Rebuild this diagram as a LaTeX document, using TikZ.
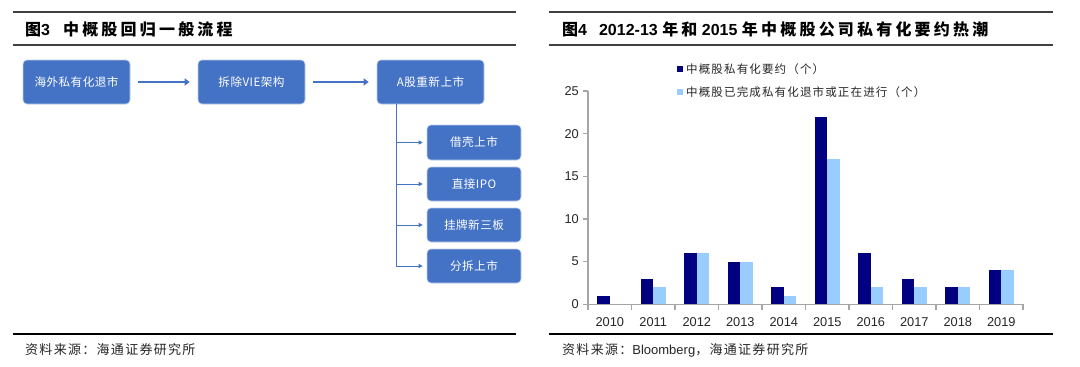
\documentclass[tikz,border=0pt]{standalone}
\usepackage{fontspec}
\setmainfont{Liberation Sans}
\newfontfamily\cjk[LetterSpace=10]{Noto Sans CJK SC}
\newfontfamily\cjkb[LetterSpace=4]{Noto Sans CJK SC}
\newfontfamily\cjkt[LetterSpace=20]{Noto Sans CJK SC}
\usetikzlibrary{arrows.meta}
\definecolor{boxblue}{HTML}{4472C4}
\definecolor{navybar}{HTML}{000080}
\definecolor{lightbar}{HTML}{99CCFF}
\definecolor{axisgray}{HTML}{A6A6A6}
\definecolor{rulegray}{HTML}{404040}
\definecolor{textdark}{HTML}{262626}
\begin{document}
\begin{tikzpicture}[x=1pt,y=-1pt,
  flowbox/.style={fill=boxblue, draw=boxblue!35, line width=0.6pt, rounded corners=4pt,
    minimum width=107pt, minimum height=44pt, text=white, inner sep=0pt,
    font=\cjkb\fontsize{11.6}{13}\selectfont},
  subbox/.style={flowbox, minimum width=94pt, minimum height=34pt},
  mainarrow/.style={draw=boxblue, line width=2.2pt, -{Triangle[length=5pt,width=7pt]},
    shorten <=8pt, shorten >=8pt},
  subarrow/.style={draw=boxblue, line width=0.8pt, -{Triangle[length=4pt,width=4pt]},
    shorten >=4pt},
  trunkline/.style={draw=boxblue, line width=0.8pt},
  titletext/.style={anchor=west, inner sep=0pt, text=black},
  sourcetext/.style={anchor=west, inner sep=0pt, text=textdark,
    font=\fontsize{13}{15}\selectfont},
  toprule/.style={draw=rulegray, line width=1.3pt},
  botrule/.style={draw=black, line width=1.3pt},
  axisline/.style={draw=axisgray, line width=1.2pt},
  ticklabel/.style={inner sep=0pt, text=textdark, font=\fontsize{12.8}{14}\selectfont},
  legendtext/.style={anchor=west, inner sep=0pt, text=textdark,
    font=\cjk\fontsize{11.5}{13}\selectfont}
]
\useasboundingbox (0,0) rectangle (1080,367);
\fill[white] (0,0) rectangle (1080,367);

% ---------- rules ----------
\draw[toprule] (13,12) -- (516,12);
\draw[toprule] (13,45) -- (516,45);
\draw[botrule] (13,334) -- (516,334);
\draw[toprule] (549,12) -- (1053,12);
\draw[toprule] (549,45) -- (1053,45);
\draw[botrule] (549,334) -- (1053,334);

% ---------- titles ----------
\node[titletext] (t3) at (25,29) {\fontsize{16}{18}\selectfont{\cjkt\bfseries 图}{\bfseries 3}\hspace{13pt}{\cjkt\bfseries 中概股回归一般流程}};
\node[titletext] (t4) at (562,29) {\fontsize{16}{18}\selectfont{\cjkt\bfseries 图}{\bfseries 4}\hspace{12pt}{\bfseries 2012-13 }{\cjkt\bfseries 年和}{\bfseries\ 2015 }{\cjkt\bfseries 年中概股公司私有化要约热潮}};

% ---------- sources ----------
\node[sourcetext] (s3) at (25,350) {{\cjk 资料来源：海通证券研究所}};
\node[sourcetext] (s4) at (562,350) {{\cjk 资料来源：}Bloomberg{\cjk ，海通证券研究所}};

% ---------- flowchart ----------
\node[flowbox] (b1) at (76.5,82) {海外私有化退市};
\node[flowbox] (b2) at (251.5,82) {拆除VIE架构};
\node[flowbox] (b3) at (430.5,82) {A股重新上市};
\draw[mainarrow] (b1) -- (b2);
\draw[mainarrow] (b2) -- (b3);

\node[subbox, minimum height=35pt] (sa) at (474,142.5) {借壳上市};
\node[subbox] (sb) at (474,184) {直接IPO};
\node[subbox] (sc) at (474,225) {挂牌新三板};
\node[subbox] (sd) at (474,266) {分拆上市};

\coordinate (trunk) at (396,104);
\draw[trunkline] (trunk) -- (trunk |- sd.west);
\foreach \s in {sa,sb,sc,sd}
  \draw[subarrow] (trunk |- \s.west) -- (\s.west);

% ---------- bar chart ----------
\foreach \i/\a/\b in {0/1/0,1/3/2,2/6/6,3/5/5,4/2/1,5/22/17,6/6/2,7/3/2,8/2/2,9/4/4}{
  \pgfmathsetmacro{\cx}{609.75+43.5*\i}
  \fill[navybar] (\cx-12.5,304.3) rectangle (\cx,{304.3-8.53*\a});
  \fill[lightbar] (\cx,304.3) rectangle (\cx+12.5,{304.3-8.53*\b});
  \node[ticklabel] at (\cx,322) {\pgfmathparse{int(2010+\i)}\pgfmathresult};
}
\draw[axisline] (588,91) -- (588,304.3) -- (1023,304.3);
\foreach \v in {0,5,10,15,20,25}{
  \draw[axisline] (583,{304.3-8.53*\v}) -- (588,{304.3-8.53*\v});
  \node[ticklabel, anchor=east] at (579,{304.3-8.53*\v}) {\v};
}
\foreach \j in {0,...,10}
  \draw[axisline] (588+43.5*\j,304.3) -- (588+43.5*\j,309.5);

% legend
\fill[navybar] (677,66) rectangle (683,72);
\node[legendtext] (l1) at (686,69) {中概股私有化要约（个）};
\fill[lightbar] (677,89) rectangle (683,95);
\node[legendtext] (l2) at (686,92) {中概股已完成私有化退市或正在进行（个）};
\end{tikzpicture}
\end{document}
